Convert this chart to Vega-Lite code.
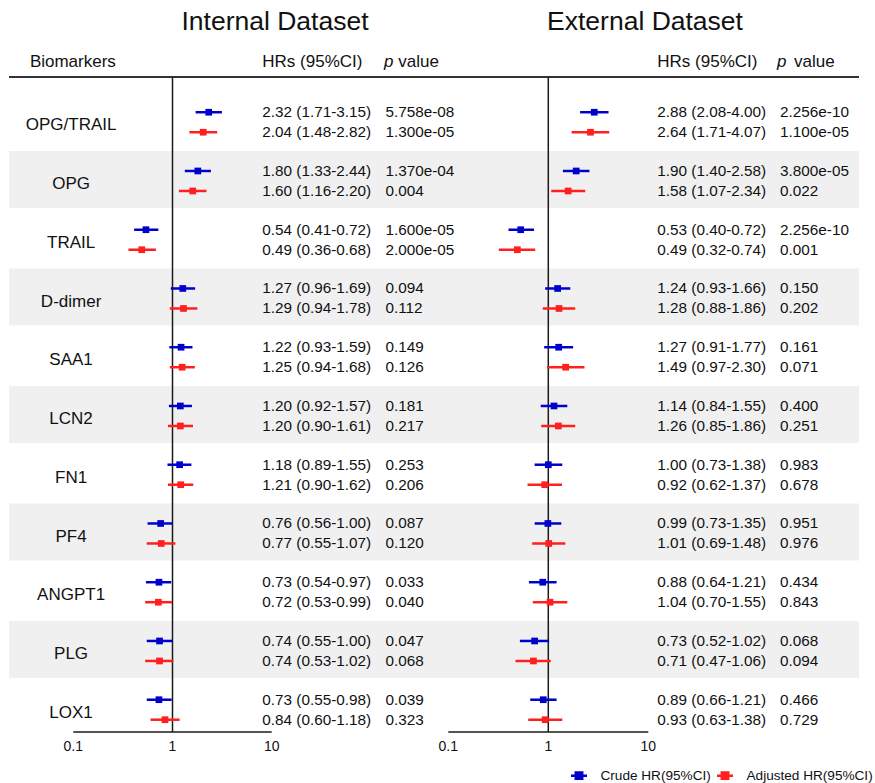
{
  "$schema": "https://vega.github.io/schema/vega-lite/v6.json",
  "width": 850,
  "height": 783,
  "autosize": {"type": "none"},
  "padding": {"left": 9, "right": 16, "top": 0, "bottom": 0},
  "background": "white",
  "config": {"view": {"stroke": null}, "text": {"font": "Liberation Sans", "color": "#111"}},
  "datasets": {
    "hr": [
      {"b":"OPG/TRAIL","set":"Internal","model":"Crude","hr":2.32,"lo":1.71,"hi":3.15,"p":"5.758e-08"},
      {"b":"OPG/TRAIL","set":"Internal","model":"Adjusted","hr":2.04,"lo":1.48,"hi":2.82,"p":"1.300e-05"},
      {"b":"OPG","set":"Internal","model":"Crude","hr":1.80,"lo":1.33,"hi":2.44,"p":"1.370e-04"},
      {"b":"OPG","set":"Internal","model":"Adjusted","hr":1.60,"lo":1.16,"hi":2.20,"p":"0.004"},
      {"b":"TRAIL","set":"Internal","model":"Crude","hr":0.54,"lo":0.41,"hi":0.72,"p":"1.600e-05"},
      {"b":"TRAIL","set":"Internal","model":"Adjusted","hr":0.49,"lo":0.36,"hi":0.68,"p":"2.000e-05"},
      {"b":"D-dimer","set":"Internal","model":"Crude","hr":1.27,"lo":0.96,"hi":1.69,"p":"0.094"},
      {"b":"D-dimer","set":"Internal","model":"Adjusted","hr":1.29,"lo":0.94,"hi":1.78,"p":"0.112"},
      {"b":"SAA1","set":"Internal","model":"Crude","hr":1.22,"lo":0.93,"hi":1.59,"p":"0.149"},
      {"b":"SAA1","set":"Internal","model":"Adjusted","hr":1.25,"lo":0.94,"hi":1.68,"p":"0.126"},
      {"b":"LCN2","set":"Internal","model":"Crude","hr":1.20,"lo":0.92,"hi":1.57,"p":"0.181"},
      {"b":"LCN2","set":"Internal","model":"Adjusted","hr":1.20,"lo":0.90,"hi":1.61,"p":"0.217"},
      {"b":"FN1","set":"Internal","model":"Crude","hr":1.18,"lo":0.89,"hi":1.55,"p":"0.253"},
      {"b":"FN1","set":"Internal","model":"Adjusted","hr":1.21,"lo":0.90,"hi":1.62,"p":"0.206"},
      {"b":"PF4","set":"Internal","model":"Crude","hr":0.76,"lo":0.56,"hi":1.00,"p":"0.087"},
      {"b":"PF4","set":"Internal","model":"Adjusted","hr":0.77,"lo":0.55,"hi":1.07,"p":"0.120"},
      {"b":"ANGPT1","set":"Internal","model":"Crude","hr":0.73,"lo":0.54,"hi":0.97,"p":"0.033"},
      {"b":"ANGPT1","set":"Internal","model":"Adjusted","hr":0.72,"lo":0.53,"hi":0.99,"p":"0.040"},
      {"b":"PLG","set":"Internal","model":"Crude","hr":0.74,"lo":0.55,"hi":1.00,"p":"0.047"},
      {"b":"PLG","set":"Internal","model":"Adjusted","hr":0.74,"lo":0.53,"hi":1.02,"p":"0.068"},
      {"b":"LOX1","set":"Internal","model":"Crude","hr":0.73,"lo":0.55,"hi":0.98,"p":"0.039"},
      {"b":"LOX1","set":"Internal","model":"Adjusted","hr":0.84,"lo":0.60,"hi":1.18,"p":"0.323"},
      {"b":"OPG/TRAIL","set":"External","model":"Crude","hr":2.88,"lo":2.08,"hi":4.00,"p":"2.256e-10"},
      {"b":"OPG/TRAIL","set":"External","model":"Adjusted","hr":2.64,"lo":1.71,"hi":4.07,"p":"1.100e-05"},
      {"b":"OPG","set":"External","model":"Crude","hr":1.90,"lo":1.40,"hi":2.58,"p":"3.800e-05"},
      {"b":"OPG","set":"External","model":"Adjusted","hr":1.58,"lo":1.07,"hi":2.34,"p":"0.022"},
      {"b":"TRAIL","set":"External","model":"Crude","hr":0.53,"lo":0.40,"hi":0.72,"p":"2.256e-10"},
      {"b":"TRAIL","set":"External","model":"Adjusted","hr":0.49,"lo":0.32,"hi":0.74,"p":"0.001"},
      {"b":"D-dimer","set":"External","model":"Crude","hr":1.24,"lo":0.93,"hi":1.66,"p":"0.150"},
      {"b":"D-dimer","set":"External","model":"Adjusted","hr":1.28,"lo":0.88,"hi":1.86,"p":"0.202"},
      {"b":"SAA1","set":"External","model":"Crude","hr":1.27,"lo":0.91,"hi":1.77,"p":"0.161"},
      {"b":"SAA1","set":"External","model":"Adjusted","hr":1.49,"lo":0.97,"hi":2.30,"p":"0.071"},
      {"b":"LCN2","set":"External","model":"Crude","hr":1.14,"lo":0.84,"hi":1.55,"p":"0.400"},
      {"b":"LCN2","set":"External","model":"Adjusted","hr":1.26,"lo":0.85,"hi":1.86,"p":"0.251"},
      {"b":"FN1","set":"External","model":"Crude","hr":1.00,"lo":0.73,"hi":1.38,"p":"0.983"},
      {"b":"FN1","set":"External","model":"Adjusted","hr":0.92,"lo":0.62,"hi":1.37,"p":"0.678"},
      {"b":"PF4","set":"External","model":"Crude","hr":0.99,"lo":0.73,"hi":1.35,"p":"0.951"},
      {"b":"PF4","set":"External","model":"Adjusted","hr":1.01,"lo":0.69,"hi":1.48,"p":"0.976"},
      {"b":"ANGPT1","set":"External","model":"Crude","hr":0.88,"lo":0.64,"hi":1.21,"p":"0.434"},
      {"b":"ANGPT1","set":"External","model":"Adjusted","hr":1.04,"lo":0.70,"hi":1.55,"p":"0.843"},
      {"b":"PLG","set":"External","model":"Crude","hr":0.73,"lo":0.52,"hi":1.02,"p":"0.068"},
      {"b":"PLG","set":"External","model":"Adjusted","hr":0.71,"lo":0.47,"hi":1.06,"p":"0.094"},
      {"b":"LOX1","set":"External","model":"Crude","hr":0.89,"lo":0.66,"hi":1.21,"p":"0.466"},
      {"b":"LOX1","set":"External","model":"Adjusted","hr":0.93,"lo":0.63,"hi":1.38,"p":"0.729"}
    ],
    "ticks": [{"v": 0.1}, {"v": 1}, {"v": 10}],
    "one": [{}]
  },
  "layer": [
    {
      "data": {"name": "hr"},
      "transform": [
        {"filter": "datum.set === 'Internal' && datum.model === 'Crude'"},
        {"filter": {"field": "b", "oneOf": ["OPG", "D-dimer", "LCN2", "PF4", "PLG"]}}
      ],
      "mark": {"type": "rect", "color": "#F0F0F0"},
      "encoding": {
        "y": {"field": "b", "type": "nominal", "axis": null, "bandPosition": 0,
              "scale": {"type": "band", "domain": ["Header","OPG/TRAIL","OPG","TRAIL","D-dimer","SAA1","LCN2","FN1","PF4","ANGPT1","PLG","LOX1"], "paddingInner": 0.03, "paddingOuter": 0.679, "align": 0.42}},
        "y2": {"field": "b", "bandPosition": 1}
      }
    },
    {
      "data": {"name": "one"},
      "mark": {"type": "rule", "color": "#333", "strokeWidth": 2},
      "encoding": {"y": {"datum": "Header", "type": "nominal", "bandPosition": 0.763}}
    },
    {
      "layer": [
        {
          "data": {"name": "one"},
          "mark": {"type": "rule", "color": "#1a1a1a", "strokeWidth": 1.5},
          "encoding": {
            "x": {"datum": 1, "type": "quantitative", "axis": null, "scale": {"type": "log", "domain": [0.1, 10], "range": [64.3, 262.7]}},
            "y": {"datum": "Header", "type": "nominal", "bandPosition": 0.763},
            "y2": {"datum": "LOX1", "bandPosition": 0.917}
          }
        },
        {
          "data": {"name": "one"},
          "mark": {"type": "rule", "color": "#1a1a1a", "strokeWidth": 1.5},
          "encoding": {
            "x": {"datum": 0.1, "type": "quantitative", "axis": null, "scale": {"type": "log", "domain": [0.1, 10], "range": [64.3, 262.7]}},
            "x2": {"datum": 10},
            "y": {"datum": "LOX1", "type": "nominal", "bandPosition": 0.917}
          }
        },
        {
          "data": {"name": "ticks"},
          "mark": {"type": "text", "fontSize": 14, "align": "center", "baseline": "middle"},
          "encoding": {
            "x": {"field": "v", "type": "quantitative", "axis": null, "scale": {"type": "log", "domain": [0.1, 10], "range": [64.3, 262.7]}},
            "y": {"datum": "LOX1", "type": "nominal", "bandPosition": 1.18},
            "text": {"field": "v", "type": "quantitative", "format": "~g"}
          }
        },
        {
          "data": {"name": "hr"},
          "transform": [{"filter": "datum.set === 'Internal'"}],
          "mark": {"type": "rule", "strokeWidth": 2.5},
          "encoding": {
            "x": {"field": "lo", "type": "quantitative", "axis": null, "scale": {"type": "log", "domain": [0.1, 10], "range": [64.3, 262.7]}},
            "x2": {"field": "hi"},
            "y": {"field": "b", "type": "nominal"},
            "yOffset": {"field": "model", "type": "nominal", "scale": {"type": "point", "domain": ["Crude", "Adjusted"], "padding": 0.925, "align": 0.54}},
            "color": {"field": "model", "type": "nominal",
              "scale": {"domain": ["Crude", "Adjusted"], "range": ["#0000CC", "#FF1F1F"]},
              "legend": {"orient": "none", "legendX": 560.5, "legendY": 766, "direction": "horizontal", "title": null,
                "symbolType": "M-1,0H1M-0.4,-0.4H0.4V0.4H-0.4Z", "symbolSize": 256, "symbolStrokeWidth": 2.5,
                "labelFont": "Liberation Sans", "labelFontSize": 13.6, "labelColor": "#111", "labelOffset": 12, "columnPadding": 0, "padding": 0,
                "labelExpr": "datum.label + ' HR(95%CI)'",
                "encode": {"symbols": {"update": {"fill": {"scale": "color", "field": "value"}, "stroke": {"scale": "color", "field": "value"}, "opacity": {"value": 1}}}}}}
          }
        },
        {
          "data": {"name": "hr"},
          "transform": [{"filter": "datum.set === 'Internal'"}],
          "mark": {"type": "square", "size": 45, "filled": true, "opacity": 1},
          "encoding": {
            "x": {"field": "hr", "type": "quantitative", "axis": null, "scale": {"type": "log", "domain": [0.1, 10], "range": [64.3, 262.7]}},
            "y": {"field": "b", "type": "nominal"},
            "yOffset": {"field": "model", "type": "nominal"},
            "color": {"field": "model", "type": "nominal"}
          }
        },
        {
          "data": {"name": "hr"},
          "transform": [
            {"filter": "datum.set === 'Internal'"},
            {"calculate": "format(datum.hr,'.2f') + ' (' + format(datum.lo,'.2f') + '-' + format(datum.hi,'.2f') + ')'", "as": "hrtxt"}
          ],
          "mark": {"type": "text", "fontSize": 15.3, "align": "left", "baseline": "middle"},
          "encoding": {
            "x": {"datum": 8.04, "type": "quantitative", "axis": null, "scale": {"type": "log", "domain": [0.1, 10], "range": [64.3, 262.7]}},
            "y": {"field": "b", "type": "nominal"},
            "yOffset": {"field": "model", "type": "nominal"},
            "text": {"field": "hrtxt"}
          }
        },
        {
          "data": {"name": "hr"},
          "transform": [{"filter": "datum.set === 'Internal'"}],
          "mark": {"type": "text", "fontSize": 15.3, "align": "left", "baseline": "middle"},
          "encoding": {
            "x": {"datum": 140, "type": "quantitative", "axis": null, "scale": {"type": "log", "domain": [0.1, 10], "range": [64.3, 262.7]}},
            "y": {"field": "b", "type": "nominal"},
            "yOffset": {"field": "model", "type": "nominal"},
            "text": {"field": "p"}
          }
        },
        {
          "data": {"name": "hr"},
          "transform": [{"filter": "datum.set === 'Internal' && datum.model === 'Crude'"}],
          "mark": {"type": "text", "fontSize": 17, "align": "center", "baseline": "middle"},
          "encoding": {
            "x": {"datum": 0.095, "type": "quantitative", "axis": null, "scale": {"type": "log", "domain": [0.1, 10], "range": [64.3, 262.7]}},
            "y": {"field": "b", "type": "nominal", "bandPosition": 0.58},
            "text": {"field": "b"}
          }
        },
        {
          "data": {"name": "one"},
          "mark": {"type": "text", "fontSize": 17, "align": "center", "baseline": "alphabetic"},
          "encoding": {
            "x": {"datum": 0.099, "type": "quantitative", "axis": null, "scale": {"type": "log", "domain": [0.1, 10], "range": [64.3, 262.7]}},
            "y": {"datum": "Header", "type": "nominal", "bandPosition": 0.58},
            "text": {"value": "Biomarkers"}
          }
        },
        {
          "data": {"name": "one"},
          "mark": {"type": "text", "fontSize": 17, "align": "left", "baseline": "alphabetic"},
          "encoding": {
            "x": {"datum": 8.04, "type": "quantitative", "axis": null, "scale": {"type": "log", "domain": [0.1, 10], "range": [64.3, 262.7]}},
            "y": {"datum": "Header", "type": "nominal", "bandPosition": 0.58},
            "text": {"value": "HRs (95%CI)"}
          }
        },
        {
          "data": {"name": "one"},
          "mark": {"type": "text", "fontSize": 17, "align": "left", "baseline": "alphabetic", "fontStyle": "italic"},
          "encoding": {
            "x": {"datum": 135.5, "type": "quantitative", "axis": null, "scale": {"type": "log", "domain": [0.1, 10], "range": [64.3, 262.7]}},
            "y": {"datum": "Header", "type": "nominal", "bandPosition": 0.58},
            "text": {"value": "p"}
          }
        },
        {
          "data": {"name": "one"},
          "mark": {"type": "text", "fontSize": 17, "align": "left", "baseline": "alphabetic"},
          "encoding": {
            "x": {"datum": 188.8, "type": "quantitative", "axis": null, "scale": {"type": "log", "domain": [0.1, 10], "range": [64.3, 262.7]}},
            "y": {"datum": "Header", "type": "nominal", "bandPosition": 0.58},
            "text": {"value": "value"}
          }
        },
        {
          "data": {"name": "one"},
          "mark": {"type": "text", "fontSize": 26.5, "align": "center", "baseline": "alphabetic"},
          "encoding": {
            "x": {"datum": 10.8, "type": "quantitative", "axis": null, "scale": {"type": "log", "domain": [0.1, 10], "range": [64.3, 262.7]}},
            "y": {"datum": "Header", "type": "nominal", "bandPosition": -0.07},
            "text": {"value": "Internal Dataset"}
          }
        }
      ]
    },
    {
      "layer": [
        {
          "data": {"name": "one"},
          "mark": {"type": "rule", "color": "#1a1a1a", "strokeWidth": 1.5},
          "encoding": {
            "x": {"datum": 1, "type": "quantitative", "axis": null, "scale": {"type": "log", "domain": [0.1, 10], "range": [439.3, 639.3]}},
            "y": {"datum": "Header", "type": "nominal", "bandPosition": 0.763},
            "y2": {"datum": "LOX1", "bandPosition": 0.917}
          }
        },
        {
          "data": {"name": "one"},
          "mark": {"type": "rule", "color": "#1a1a1a", "strokeWidth": 1.5},
          "encoding": {
            "x": {"datum": 0.1, "type": "quantitative", "axis": null, "scale": {"type": "log", "domain": [0.1, 10], "range": [439.3, 639.3]}},
            "x2": {"datum": 10},
            "y": {"datum": "LOX1", "type": "nominal", "bandPosition": 0.917}
          }
        },
        {
          "data": {"name": "ticks"},
          "mark": {"type": "text", "fontSize": 14, "align": "center", "baseline": "middle"},
          "encoding": {
            "x": {"field": "v", "type": "quantitative", "axis": null, "scale": {"type": "log", "domain": [0.1, 10], "range": [439.3, 639.3]}},
            "y": {"datum": "LOX1", "type": "nominal", "bandPosition": 1.18},
            "text": {"field": "v", "type": "quantitative", "format": "~g"}
          }
        },
        {
          "data": {"name": "hr"},
          "transform": [{"filter": "datum.set === 'External'"}],
          "mark": {"type": "rule", "strokeWidth": 2.5},
          "encoding": {
            "x": {"field": "lo", "type": "quantitative", "axis": null, "scale": {"type": "log", "domain": [0.1, 10], "range": [439.3, 639.3]}},
            "x2": {"field": "hi"},
            "y": {"field": "b", "type": "nominal"},
            "yOffset": {"field": "model", "type": "nominal"},
            "color": {"field": "model", "type": "nominal"}
          }
        },
        {
          "data": {"name": "hr"},
          "transform": [{"filter": "datum.set === 'External'"}],
          "mark": {"type": "square", "size": 45, "filled": true, "opacity": 1},
          "encoding": {
            "x": {"field": "hr", "type": "quantitative", "axis": null, "scale": {"type": "log", "domain": [0.1, 10], "range": [439.3, 639.3]}},
            "y": {"field": "b", "type": "nominal"},
            "yOffset": {"field": "model", "type": "nominal"},
            "color": {"field": "model", "type": "nominal"}
          }
        },
        {
          "data": {"name": "hr"},
          "transform": [
            {"filter": "datum.set === 'External'"},
            {"calculate": "format(datum.hr,'.2f') + ' (' + format(datum.lo,'.2f') + '-' + format(datum.hi,'.2f') + ')'", "as": "hrtxt"}
          ],
          "mark": {"type": "text", "fontSize": 15.3, "align": "left", "baseline": "middle"},
          "encoding": {
            "x": {"datum": 12.3, "type": "quantitative", "axis": null, "scale": {"type": "log", "domain": [0.1, 10], "range": [439.3, 639.3]}},
            "y": {"field": "b", "type": "nominal"},
            "yOffset": {"field": "model", "type": "nominal"},
            "text": {"field": "hrtxt"}
          }
        },
        {
          "data": {"name": "hr"},
          "transform": [{"filter": "datum.set === 'External'"}],
          "mark": {"type": "text", "fontSize": 15.3, "align": "left", "baseline": "middle"},
          "encoding": {
            "x": {"datum": 207.5, "type": "quantitative", "axis": null, "scale": {"type": "log", "domain": [0.1, 10], "range": [439.3, 639.3]}},
            "y": {"field": "b", "type": "nominal"},
            "yOffset": {"field": "model", "type": "nominal"},
            "text": {"field": "p"}
          }
        },
        {
          "data": {"name": "one"},
          "mark": {"type": "text", "fontSize": 17, "align": "left", "baseline": "alphabetic"},
          "encoding": {
            "x": {"datum": 12.3, "type": "quantitative", "axis": null, "scale": {"type": "log", "domain": [0.1, 10], "range": [439.3, 639.3]}},
            "y": {"datum": "Header", "type": "nominal", "bandPosition": 0.58},
            "text": {"value": "HRs (95%CI)"}
          }
        },
        {
          "data": {"name": "one"},
          "mark": {"type": "text", "fontSize": 17, "align": "left", "baseline": "alphabetic", "fontStyle": "italic"},
          "encoding": {
            "x": {"datum": 193.6, "type": "quantitative", "axis": null, "scale": {"type": "log", "domain": [0.1, 10], "range": [439.3, 639.3]}},
            "y": {"datum": "Header", "type": "nominal", "bandPosition": 0.58},
            "text": {"value": "p"}
          }
        },
        {
          "data": {"name": "one"},
          "mark": {"type": "text", "fontSize": 17, "align": "left", "baseline": "alphabetic"},
          "encoding": {
            "x": {"datum": 286.6, "type": "quantitative", "axis": null, "scale": {"type": "log", "domain": [0.1, 10], "range": [439.3, 639.3]}},
            "y": {"datum": "Header", "type": "nominal", "bandPosition": 0.58},
            "text": {"value": "value"}
          }
        },
        {
          "data": {"name": "one"},
          "mark": {"type": "text", "fontSize": 26.5, "align": "center", "baseline": "alphabetic"},
          "encoding": {
            "x": {"datum": 9.27, "type": "quantitative", "axis": null, "scale": {"type": "log", "domain": [0.1, 10], "range": [439.3, 639.3]}},
            "y": {"datum": "Header", "type": "nominal", "bandPosition": -0.07},
            "text": {"value": "External Dataset"}
          }
        }
      ]
    }
  ],
  "resolve": {"scale": {"x": "independent"}}
}
